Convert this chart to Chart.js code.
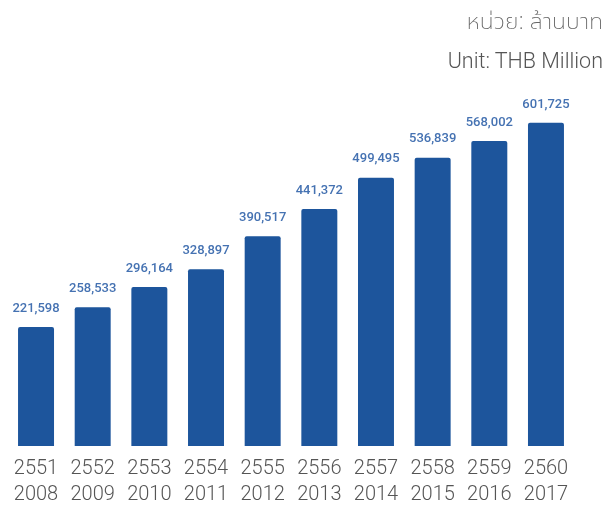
<!DOCTYPE html>
<html><head><meta charset="utf-8">
<script src="https://cdn.jsdelivr.net/npm/chart.js@4/dist/chart.umd.min.js"></script>
<style>
html,body{margin:0;padding:0;background:#fff;}
#wrap{position:relative;width:606px;height:505px;}
canvas{position:absolute;left:0;top:0;}
.hdr{position:absolute;right:3px;font-family:Roboto,"Noto Sans Thai","Noto Sans",sans-serif;font-weight:300;font-size:21.5px;color:#555;white-space:nowrap;}
.th{font-family:"Noto Sans Thai UI","Noto Sans Thai","Noto Sans",sans-serif;font-weight:200;color:#666;font-size:23px;}
</style></head>
<body>
<div id="wrap">
<canvas id="c" width="606" height="505"></canvas>
<div class="hdr th" style="top:4px">หน่วย: ล้านบาท</div>
<div class="hdr" style="top:48px">Unit: THB Million</div>
</div>
<script>
const thaiYears = ["2551","2552","2553","2554","2555","2556","2557","2558","2559","2560"];
const gregYears = ["2008","2009","2010","2011","2012","2013","2014","2015","2016","2017"];
const values = [221598,258533,296164,328897,390517,441372,499495,536839,568002,601725];

const labels = thaiYears.map((t,i)=>[t, gregYears[i]]);

const valueLabels = {
  id:'valueLabels',
  afterDatasetsDraw(chart){
    const ctx = chart.ctx;
    const meta = chart.getDatasetMeta(0);
    ctx.save();
    ctx.font = '500 13px Roboto, sans-serif';
    ctx.fillStyle = '#4572b2';
    ctx.textAlign = 'center';
    ctx.textBaseline = 'bottom';
    meta.data.forEach((bar,i)=>{
      ctx.fillText(values[i].toLocaleString('en-US'), bar.x, bar.y - 12);
    });
    ctx.restore();
  }
};

new Chart(document.getElementById('c'), {
  type:'bar',
  data:{labels, datasets:[{data:values, backgroundColor:'#1d559c', borderRadius:2, barPercentage:0.635, categoryPercentage:1}]},
  options:{
    responsive:false, animation:false,
    layout:{padding:{top:70,left:7.7,right:31.7,bottom:0}},
    plugins:{legend:{display:false}, tooltip:{enabled:false}},
    scales:{
      y:{display:false, min:0, max:700000},
      x:{
        grid:{display:false},
        border:{display:false},
        ticks:{color:'#555', font:{family:'Roboto, sans-serif', size:20, weight:300, lineHeight:'26px'}, padding:2, maxRotation:0, autoSkip:false},
        afterFit(s){ s.height = 59; }
      }
    }
  },
  plugins:[valueLabels]
});
</script>
</body></html>
